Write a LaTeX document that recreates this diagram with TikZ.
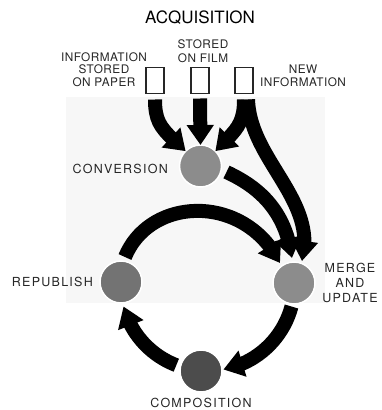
\documentclass[tikz,border=0pt]{standalone}
\usepackage{fontspec}
\setmainfont{TeX Gyre Heros}
\newfontfamily\labelfont[LetterSpace=10]{TeX Gyre Heros}
\newfontfamily\sourcefont[LetterSpace=4]{TeX Gyre Heros}
\usetikzlibrary{arrows.meta,bending,calc}
\begin{document}
\begin{tikzpicture}[x=1pt,y=-1pt,
  band/.style={line width=14pt,-{Triangle[length=20pt,width=26pt]}},
  srcbox/.style={draw=black!85,line width=1.1pt,minimum width=18pt,minimum height=26pt,inner sep=0pt,outer sep=0pt},
  hub/.style={circle,inner sep=0pt,outer sep=0pt,minimum size=42pt,draw=white,line width=1.5pt},
  srctext/.style={font=\sourcefont\fontsize{11.8}{12.8}\selectfont,text=black!85,align=center,inner sep=0pt},
  steptext/.style={font=\labelfont\fontsize{12.5}{15}\selectfont,text=black!85,align=center,inner sep=0pt},
]
\useasboundingbox (0,0) rectangle (381,410);
% light panel behind the cycle
\fill[black!3] (66,97) rectangle (325,303);

\node[font=\fontsize{17}{20}\selectfont,inner sep=0pt] (title) at (200,18) {ACQUISITION};

% sources
\node[srcbox] (b1) at (155,80.5) {};
\node[srcbox] (b2) at (200,80.5) {};
\node[srcbox] (b3) at (244,80.5) {};
\node[srctext] (t1) at (104,69.5) {INFORMATION\\STORED\\ON PAPER};
\node[srctext,font=\sourcefont\fontsize{11.8}{14}\selectfont] (t2) at (203,51) {STORED\\ON FILM};
\node[srctext] (t3) at (303,76) {NEW\\INFORMATION};

% processing stages
\node[hub,fill=black!45] (conv) at (200.5,166) {};
\node[hub,fill=black!45] (merge) at (294,283) {};
\node[hub,fill=black!55] (repub) at (121,282) {};
\node[hub,fill=black!70] (comp) at (201,371) {};

\node[steptext,anchor=east] (tconv) at (168,169) {CONVERSION};
\node[steptext,anchor=east] (trepub) at (93,282) {REPUBLISH};
\node[steptext] (tmerge) at (350,283) {MERGE\\AND\\UPDATE};
\node[steptext] (tcomp) at (201,403) {COMPOSITION};

% flows into conversion
\draw[band] ($(b1.south)+(0,6)$) .. controls (155,125) and (163,130) .. (conv.135);
\draw[band] ($(b2.south)+(0,5)$) -- (conv.north);
\draw[band] ($(b3.south)+(0,6)$) .. controls (244,125) and (236,130) .. (conv.45);
% flows into merge and update
\draw[band] ($(b3.south)+(4,6)$) .. controls (250,160) and (318,200) .. ($(merge)+(8,-22)$);
\draw[band] ($(conv)+(26,6)$) .. controls (252,184) and (285,205) .. ($(merge)+(-2,-25)$);
\draw[band] ($(repub)+(4,-25)$) .. controls (150,196) and (245,193) .. ($(merge)+(-14,-20)$);
% publishing cycle
\draw[band] ($(merge)+(-2.5,23.5)$) .. controls (282.8,338.9) and (256.3,363.4) .. ($(comp)+(22.4,-1.5)$);
\draw[band] ($(comp)+(-24.7,-5.8)$) .. controls (150.3,355.2) and (130.7,333.4) .. ($(repub)+(2.5,24.5)$);
\end{tikzpicture}
\end{document}
